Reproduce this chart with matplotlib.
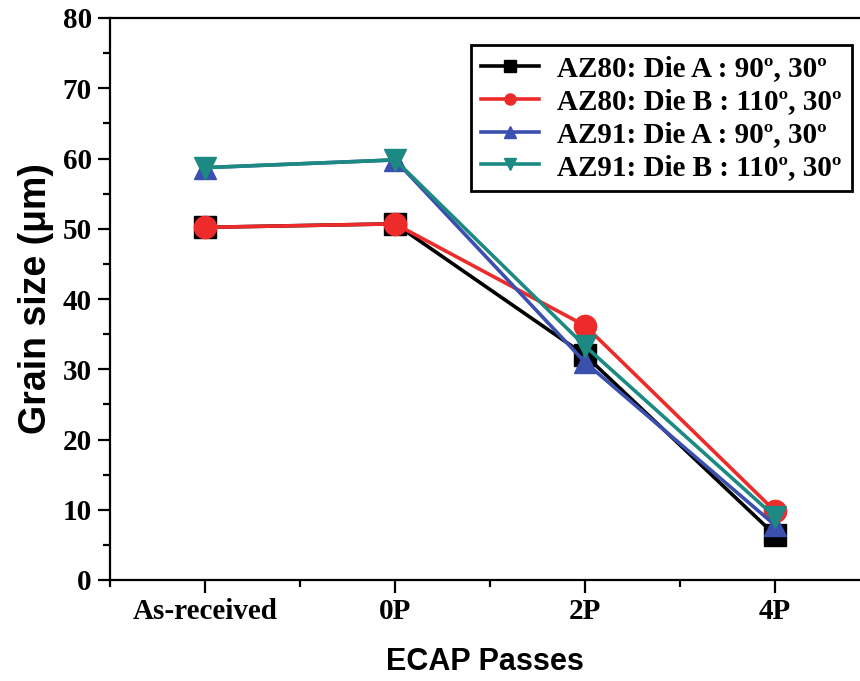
import matplotlib.pyplot as plt
from matplotlib.ticker import MultipleLocator

passes = ["As-received", "0P", "2P", "4P"]

az80_die_a = [50.2, 50.7, 32.0, 6.4]
az80_die_b = [50.2, 50.7, 36.2, 9.8]
az91_die_a = [58.7, 59.8, 31.0, 7.8]
az91_die_b = [58.7, 59.8, 33.3, 9.0]

series = [
    (az80_die_a, "AZ80: Die A : 90\u00ba, 30\u00ba", "#000000", "s"),
    (az80_die_b, "AZ80: Die B : 110\u00ba, 30\u00ba", "#ee2b2b", "o"),
    (az91_die_a, "AZ91: Die A : 90\u00ba, 30\u00ba", "#3b4fae", "^"),
    (az91_die_b, "AZ91: Die B : 110\u00ba, 30\u00ba", "#1c8a82", "v"),
]

fig = plt.figure(figsize=(8.6, 6.81), dpi=100)
ax = fig.add_axes([110 / 860, 1 - 580 / 681, 1 - 110 / 860, (580 - 18) / 681])

x = list(range(len(passes)))

for values, label, color, marker in series:
    ax.plot(
        x,
        values,
        color=color,
        marker=marker,
        markersize=16,
        linewidth=2.6,
        label=label,
    )

ax.set_xlim(-0.5, 3.447)
ax.set_ylim(0, 80)

ax.set_xticks(x)
ax.set_xticklabels(passes)
ax.xaxis.set_minor_locator(MultipleLocator(0.5))
ax.yaxis.set_major_locator(MultipleLocator(10))
ax.yaxis.set_minor_locator(MultipleLocator(5))

ax.spines["right"].set_visible(False)
for side in ["left", "bottom", "top"]:
    ax.spines[side].set_linewidth(1.6)

ax.tick_params(which="major", direction="out", length=9, width=1.6, pad=4)
ax.tick_params(which="minor", direction="out", length=5, width=1.6)
ax.tick_params(top=False, which="both")

for lab in ax.get_xticklabels() + ax.get_yticklabels():
    lab.set_fontfamily("Liberation Serif")
    lab.set_fontweight("bold")
    lab.set_fontsize(21)

ax.set_xlabel(
    "ECAP Passes",
    fontfamily="Liberation Sans",
    fontweight="bold",
    fontsize=22,
    labelpad=16,
)
ax.set_ylabel(
    "Grain size (\u03bcm)",
    fontfamily="Liberation Sans",
    fontweight="bold",
    fontsize=27,
    labelpad=6,
)

legend = ax.legend(
    loc="upper right",
    bbox_to_anchor=(0.989, 0.952),
    borderaxespad=0,
    prop={"family": "Liberation Serif", "weight": "bold", "size": 21},
    markerscale=0.5,
    handlelength=2.0,
    handletextpad=0.6,
    labelspacing=0.2,
    borderpad=0.35,
    fancybox=False,
    framealpha=1,
    edgecolor="black",
)
legend.get_frame().set_linewidth(2)

fig.savefig("out.png", dpi=100)
